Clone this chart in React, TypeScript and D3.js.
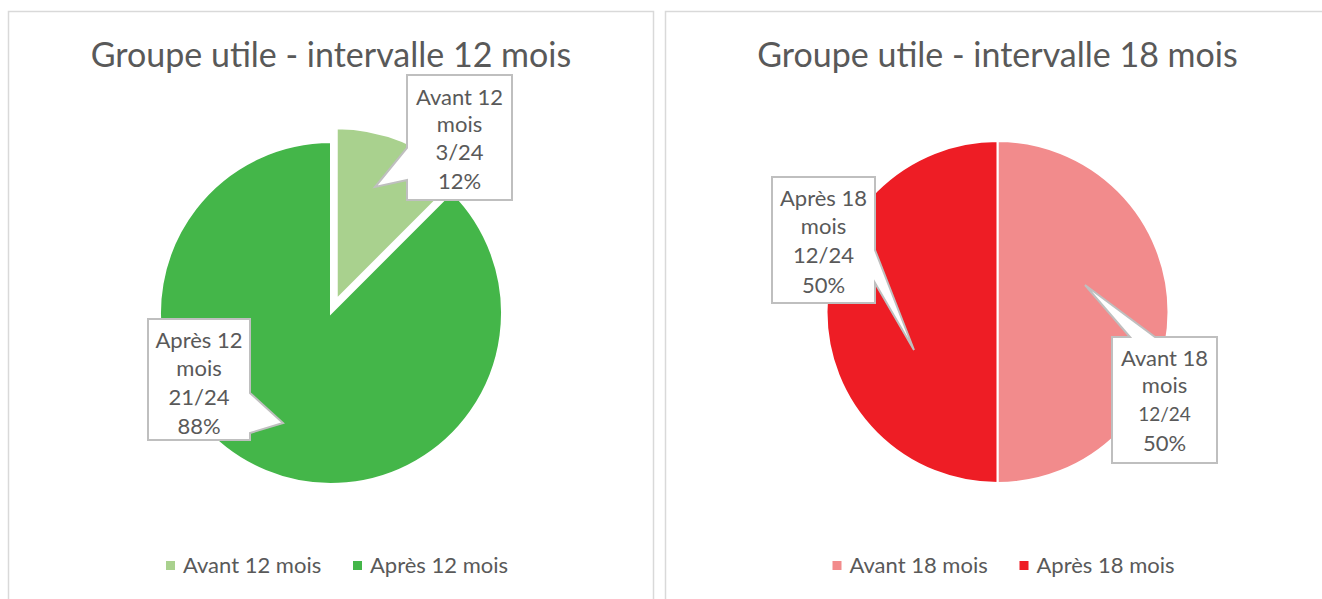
import React from "react";
import * as d3 from "d3";

const categories12 = ["Avant 12 mois", "Après 12 mois"];
const values12 = [3, 21];
const pctLabels12 = ["12%", "88%"];
const colors12 = ["#A9D18E", "#44B649"];

const categories18 = ["Avant 18 mois", "Après 18 mois"];
const values18 = [12, 12];
const pctLabels18 = ["50%", "50%"];
const colors18 = ["#F28B8C", "#EE1D25"];

const titles = ["Groupe utile - intervalle 12 mois", "Groupe utile - intervalle 18 mois"];

const FONT = "Lato, 'Open Sans', sans-serif";
const TEXT = "#595959";

type Callout = { path: string; cx: number; lines: number[]; smallThird?: boolean };

function labelLines(cat: string, v: number, total: number, pct: string) {
  const parts = cat.split(" ");
  return [parts.slice(0, 2).join(" "), parts.slice(2).join(" "), `${v}/${total}`, pct];
}

function PiePanel(props: {
  cx: number;
  cy: number;
  r: number;
  cats: string[];
  vals: number[];
  pcts: string[];
  colors: string[];
  title: string;
  explode: number[];
  callouts: Callout[];
}) {
  const { cx, cy, r, cats, vals, pcts, colors, title, explode, callouts } = props;
  const total = d3.sum(vals);
  const pie = d3.pie<number>().sort(null).value((d) => d)(vals);
  const arc = d3.arc<d3.PieArcDatum<number>>().innerRadius(0).outerRadius(r);
  return (
    <g>
      <text x={cx} y={67} textAnchor="middle" fontFamily={FONT} fontSize={34} fill={TEXT}>
        {title}
      </text>
      {pie.map((p, i) => {
        const mid = (p.startAngle + p.endAngle) / 2;
        const dx = Math.sin(mid) * explode[i];
        const dy = -Math.cos(mid) * explode[i];
        return (
          <path
            key={i}
            d={arc(p) || ""}
            transform={`translate(${cx + dx},${cy + dy})`}
            fill={colors[i]}
            stroke="#fff"
            strokeWidth={2}
          />
        );
      })}
      {callouts.map((c, i) => {
        const lines = labelLines(cats[i], vals[i], total, pcts[i]);
        return (
          <g key={i}>
            <path d={c.path} fill="#fff" stroke="#BFBFBF" strokeWidth={2} />
            {lines.map((t, j) => (
              <text
                key={j}
                x={c.cx}
                y={c.lines[j]}
                textAnchor="middle"
                fontFamily={FONT}
                fontSize={c.smallThird && j === 2 ? 19 : 22}
                fill={TEXT}
              >
                {t}
              </text>
            ))}
          </g>
        );
      })}
      {cats.map((c, i) => {
        const sx = i === 0 ? cx - 165 : cx + 22;
        return (
          <g key={c}>
            <rect x={sx} y={561} width={9} height={9} fill={colors[i]} />
            <text x={sx + 17} y={573} fontFamily={FONT} fontSize={22} fill={TEXT}>
              {c}
            </text>
          </g>
        );
      })}
    </g>
  );
}

export default function App() {
  return (
    <svg
      width={1322}
      height={599}
      style={{ position: "absolute", left: 0, top: 0, display: "block", background: "#fff" }}
    >
      <rect x={8.5} y={11.5} width={645} height={620} fill="#fff" stroke="#D9D9D9" strokeWidth={1.5} />
      <rect x={665.5} y={11.5} width={700} height={620} fill="#fff" stroke="#D9D9D9" strokeWidth={1.5} />
      <PiePanel
        cx={331}
        cy={313}
        r={171}
        cats={categories12}
        vals={values12}
        pcts={pctLabels12}
        colors={colors12}
        title={titles[0]}
        explode={[15, 0]}
        callouts={[
          {
            path: "M407,75 H512 V200 H407 V180 L375,187 L407,148 Z",
            cx: 459.5,
            lines: [105, 132, 160, 189],
          },
          {
            path: "M148,319 H250 V393 L283,423 L250,433 V440 H148 Z",
            cx: 199,
            lines: [348, 376, 405, 434],
          },
        ]}
      />
      <PiePanel
        cx={997.5}
        cy={312}
        r={171}
        cats={categories18}
        vals={values18}
        pcts={pctLabels18}
        colors={colors18}
        title={titles[1]}
        explode={[0, 0]}
        callouts={[
          {
            path: "M1112,337 H1130 L1085,285 L1155,337 H1217 V463 H1112 Z",
            cx: 1164.5,
            lines: [366, 393, 421, 451],
            smallThird: true,
          },
          {
            path: "M772,177 H875 V250 L914,350 L875,283 V303 H772 Z",
            cx: 823.5,
            lines: [206, 234, 263, 293],
          },
        ]}
      />
    </svg>
  );
}
